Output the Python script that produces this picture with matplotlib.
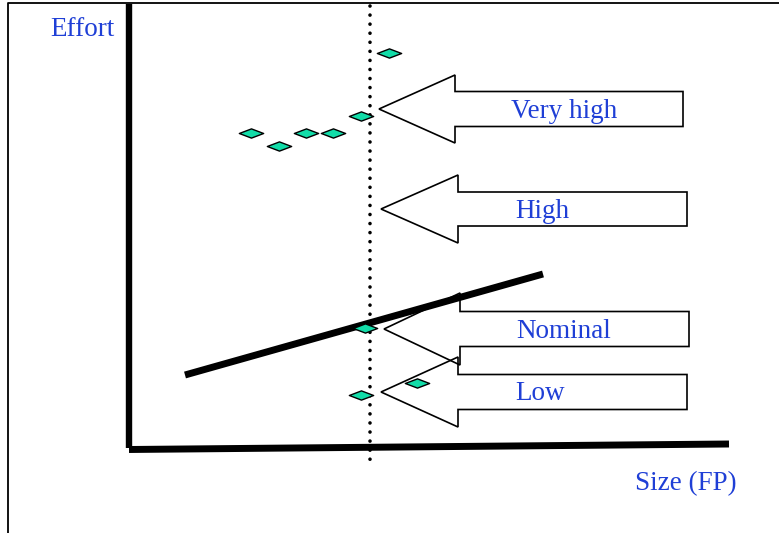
import numpy
import matplotlib
matplotlib.use("Agg")
from matplotlib import pyplot
from matplotlib.path import Path
from matplotlib.patches import Polygon

# Diagram is laid out in pixel units of the original slide (y grows downward)

# Observed projects (size, effort)
point_x = [389, 251, 279, 306, 333, 361, 365, 361, 417]
point_y = [53, 133, 146, 133, 133, 116, 328, 395, 383]

# Nominal regression line
trend_x = [185, 543]
trend_y = [375, 274]

# Cost-driver arrows: label, tip (x, y), neck x, right end x, head half-height, shaft half-height
arrow_labels = ["Very high", "High", "Nominal", "Low"]
arrow_tip_x = [379, 381, 384, 381]
arrow_tip_y = [109, 209, 329, 392]
arrow_neck_x = [455, 458, 460, 458]
arrow_end_x = [683, 687, 689, 687]
arrow_head_h = [34, 34, 36, 35]
arrow_shaft_h = [17.5, 17, 17.5, 17.5]
label_x = [564, 542, 564, 540]

textblue = "#1f3fd6"
diamondcol = "#12dca8"


def main():
    fig = pyplot.figure(figsize=(7.79, 5.33), dpi=100)
    ax = fig.add_axes([0, 0, 1, 1])
    ax.set_xlim(0, 779)
    ax.set_ylim(533, 0)
    ax.axis("off")

    # slide frame
    ax.plot([8, 8, 781], [540, 3, 3], color="black", lw=1.3, zorder=1)

    # axes of the sketch
    ax.plot([129, 129], [4, 448], color="black", lw=4.6, solid_capstyle="butt", zorder=3)
    ax.plot([129, 729], [449.5, 444], color="black", lw=5.0, solid_capstyle="butt", zorder=3)

    # dotted size marker
    ax.plot([370, 370], [6, 460], color="black", lw=2.6, linestyle=(0, (0.01, 2.5)),
            dash_capstyle="round", zorder=2)

    for i, lab in enumerate(arrow_labels):
        tx, ty = arrow_tip_x[i], arrow_tip_y[i]
        nx, ex = arrow_neck_x[i], arrow_end_x[i]
        hh, sh = arrow_head_h[i], arrow_shaft_h[i]
        verts = [(tx, ty), (nx, ty - hh), (nx, ty - sh), (ex, ty - sh),
                 (ex, ty + sh), (nx, ty + sh), (nx, ty + hh)]
        ax.add_patch(Polygon(verts, closed=True, facecolor="none", edgecolor="black",
                             lw=1.2, zorder=4))
        ax.text(label_x[i], ty + 2, lab, color=textblue, fontsize=19.5, family="Liberation Serif",
                ha="center", va="center", zorder=6)

    ax.plot(trend_x, trend_y, color="black", lw=5.0, solid_capstyle="butt", zorder=7)

    diamond = Path([(-1, 0), (0, 0.38), (1, 0), (0, -0.38), (-1, 0)],
                   [Path.MOVETO, Path.LINETO, Path.LINETO, Path.LINETO, Path.CLOSEPOLY])
    ax.plot(point_x, point_y, linestyle="none", marker=diamond, markersize=17.5,
            markerfacecolor=diamondcol, markeredgecolor="black", markeredgewidth=1.0, zorder=8)

    ax.text(115, 29, "Effort", color=textblue, fontsize=19.5, family="Liberation Serif",
            ha="right", va="center")
    ax.text(737, 484, "Size (FP)", color=textblue, fontsize=19.5, family="Liberation Serif",
            ha="right", va="center")

    fig.savefig("out.png", dpi=100)
    pyplot.close(fig)


if __name__ == "__main__":
    main()
